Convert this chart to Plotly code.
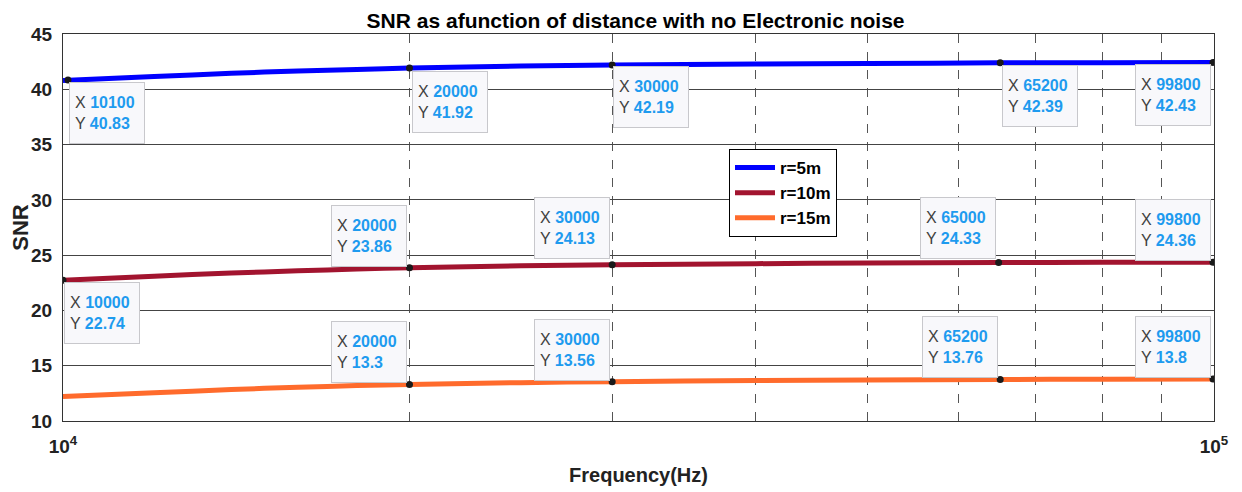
import numpy as np
import plotly.graph_objects as go

# ---------------- data ----------------
freq = [10000, 12000, 14000, 16000, 18000, 20000, 25000, 30000, 40000, 50000, 65000, 80000, 100000]
snr_5m = [40.80, 41.15, 41.45, 41.65, 41.80, 41.92, 42.10, 42.19, 42.29, 42.34, 42.39, 42.41, 42.43]
snr_10m = [22.74, 23.10, 23.38, 23.58, 23.74, 23.86, 24.03, 24.13, 24.23, 24.28, 24.33, 24.35, 24.36]
snr_15m = [12.22, 12.55, 12.85, 13.05, 13.20, 13.30, 13.47, 13.56, 13.66, 13.71, 13.76, 13.78, 13.80]

series_names = ["r=5m", "r=10m", "r=15m"]

tip_x_5m = [10100, 20000, 30000, 65200, 99800]
tip_y_5m = [40.83, 41.92, 42.19, 42.39, 42.43]
tip_x_10m = [10000, 20000, 30000, 65000, 99800]
tip_y_10m = [22.74, 23.86, 24.13, 24.33, 24.36]
tip_x_15m = [20000, 30000, 65200, 99800]
tip_y_15m = [13.3, 13.56, 13.76, 13.8]

y_ticks = [10, 15, 20, 25, 30, 35, 40, 45]
x_ticks = [10000, 100000]
x_ticktext = ["10<sup>4</sup>", "10<sup>5</sup>"]
x_minor = [20000, 30000, 40000, 50000, 60000, 70000, 80000, 90000]

# ---------------- styles ----------------
colors = ["#0000FF", "#A2142F", "#FF6B2C"]
# datatip placement: (xanchor, yanchor, xshift, yshift)
place_5m = [("left", "top", 1, -2), ("left", "top", 3, -3), ("left", "top", 1, -1), ("left", "top", 2, -2), ("right", "top", -2, -2)]
place_10m = [("left", "top", 1, -2), ("right", "bottom", -2, 1), ("right", "bottom", -2, 6), ("right", "bottom", -3, 4), ("right", "bottom", -2, 1)]
place_15m = [("right", "bottom", -2, 2), ("right", "bottom", -2, 1), ("right", "bottom", -2, 1), ("right", "bottom", -2, 1)]

FONT = "Liberation Sans, Arial, sans-serif"
VAL_COLOR = "#1E9BEF"

fig = go.Figure()
for name, ys, c in zip(series_names, [snr_5m, snr_10m, snr_15m], colors):
    fig.add_trace(go.Scatter(x=freq, y=ys, mode="lines", name=name,
                             line=dict(color=c, width=5, shape="spline", smoothing=0.6)))

annotations = []
for tx, ty, pl in [(tip_x_5m, tip_y_5m, place_5m), (tip_x_10m, tip_y_10m, place_10m), (tip_x_15m, tip_y_15m, place_15m)]:
    fig.add_trace(go.Scatter(x=tx, y=ty, mode="markers", showlegend=False,
                             marker=dict(color="#1a1a1a", size=7), hoverinfo="skip"))
    for xv, yv, (xa, ya, xs, ys_) in zip(tx, ty, pl):
        txt = (f"X <span style='color:{VAL_COLOR};font-weight:600'>{xv}</span><br>"
               f"Y <span style='color:{VAL_COLOR};font-weight:600'>{yv:g}</span>")
        annotations.append(dict(
            x=np.log10(xv), y=yv, xref="x", yref="y", text=txt, showarrow=False,
            xanchor=xa, yanchor=ya, xshift=xs, yshift=ys_, align="left",
            width=64, height=50,
            font=dict(family=FONT, size=16, color="#404040"),
            bgcolor="#F8F8FB", bordercolor="#C8C8CC", borderwidth=1, borderpad=5,
        ))

fig.update_layout(
    width=1242, height=492,
    margin=dict(l=55, r=36, t=26, b=79),
    paper_bgcolor="white", plot_bgcolor="white",
    title=dict(text="<b>SNR as afunction of distance with no Electronic noise</b>",
               x=(62 + 1213) / 2 / 1242 - 0.008, xanchor="center", y=0.975, yanchor="middle",
               font=dict(family=FONT, size=21, color="black")),
    font=dict(family=FONT),
    annotations=annotations,
    legend=dict(x=(728 - 62) / 1151, y=(420 - 148) / 387, xanchor="left", yanchor="top",
                bgcolor="white", bordercolor="black", borderwidth=1,
                font=dict(family=FONT, size=17, color="black", weight="bold"),
                tracegroupgap=0, itemwidth=40),
    showlegend=True,
)

fig.update_xaxes(
    type="log", range=[4, 5], tickvals=x_ticks, ticktext=x_ticktext,
    tickfont=dict(family=FONT, size=19, color="#222222", weight="bold"),
    ticklabelstandoff=8, automargin=False,
    showgrid=False, showline=True, linecolor="#333333", linewidth=1, mirror=True,
    ticks="", zeroline=False,
    minor=dict(tickvals=x_minor, showgrid=True, gridcolor="#555555", griddash="dash", gridwidth=1, ticks=""),
    title=dict(text="<b>Frequency(Hz)</b>", font=dict(family=FONT, size=20, color="#222222"), standoff=12),
)
fig.update_yaxes(
    range=[10, 45], tickvals=y_ticks,
    tickfont=dict(family=FONT, size=19, color="#222222", weight="bold"),
    ticklabelstandoff=6, automargin=False,
    showgrid=True, gridcolor="#444444", gridwidth=1,
    showline=True, linecolor="#333333", linewidth=1, mirror=True,
    ticks="", zeroline=False,
    title=dict(text="<b>SNR</b>", font=dict(family=FONT, size=22, color="#222222"), standoff=8),
)

fig.write_html("out.html")
